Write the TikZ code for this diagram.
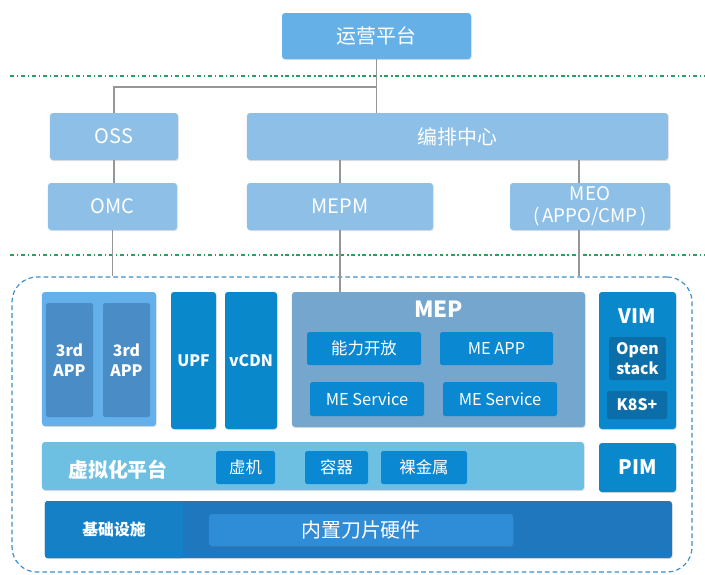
\documentclass[tikz,border=0pt]{standalone}
\usepackage{fontspec}
\setmainfont{Noto Sans CJK SC}
\usetikzlibrary{shadows, positioning}

\definecolor{topblue}{RGB}{102,176,232}
\definecolor{mgmtblue}{RGB}{142,192,231}
\definecolor{appouter}{RGB}{100,176,234}
\definecolor{appinner}{RGB}{74,141,198}
\definecolor{vnfblue}{RGB}{10,136,204}
\definecolor{mepgrey}{RGB}{116,166,206}
\definecolor{mepinner}{RGB}{10,137,210}
\definecolor{vimdark}{RGB}{11,110,168}
\definecolor{virtbar}{RGB}{110,192,226}
\definecolor{infrabar}{RGB}{31,119,190}
\definecolor{infraleft}{RGB}{22,128,198}
\definecolor{hwblue}{RGB}{47,141,216}
\definecolor{framedash}{RGB}{62,142,200}
\definecolor{sepgreen}{RGB}{40,160,100}
\definecolor{linkgrey}{RGB}{150,150,150}

\begin{document}
\begin{tikzpicture}[
  x=0.03cm, y=-0.03cm,
  blk/.style={rounded corners=2.5pt, text=white, inner sep=0pt, align=center,
    drop shadow={shadow xshift=0.6pt, shadow yshift=-0.9pt, opacity=0.25}},
  flat/.style={rounded corners=1.5pt, text=white, inner sep=0pt, align=center},
  big/.style={font=\fontsize{17}{20}\selectfont},
  mid/.style={font=\fontsize{14}{17}\selectfont},
  bigb/.style={font=\fontsize{17}{20}\selectfont\bfseries},
  midb/.style={font=\fontsize{13.5}{17}\selectfont\bfseries},
  link/.style={draw=linkgrey, line width=1.2pt},
  sep/.style={draw=sepgreen, line width=1pt, dash pattern=on 3.4pt off 2.4pt on 1.2pt off 2.4pt}
]
\useasboundingbox (0,0) rectangle (705,574);

\draw[sep] (10,76) -- (705,76);
\draw[sep] (10,255) -- (705,255);

\node[blk, fill=topblue, big, minimum width=5.67cm, minimum height=1.38cm] at (376.5,36) (ops_platform) {运营平台};
\node[blk, fill=mgmtblue, big, minimum width=3.84cm, minimum height=1.41cm] at (114,136.5) (oss) {OSS};
\node[blk, fill=mgmtblue, big, minimum width=12.63cm, minimum height=1.41cm] at (457.5,136.5) (orch_center) {编排中心};
\node[blk, fill=mgmtblue, big, minimum width=3.87cm, minimum height=1.41cm] at (112.5,206.5) (omc) {OMC};
\node[blk, fill=mgmtblue, big, minimum width=5.58cm, minimum height=1.41cm] at (340,206.5) (mepm) {MEPM};
\node[blk, fill=mgmtblue, font=\fontsize{16}{19}\selectfont, minimum width=4.8cm, minimum height=1.41cm] at (590,206.5) (meo) {MEO\\(\,APPO/CMP\,)};

\node[draw=framedash, line width=1pt, dash pattern=on 4pt off 2.6pt, rounded corners=0.75cm, minimum width=20.4cm, minimum height=8.85cm] at (352,424.5) (mec_frame) {};

\coordinate (branch) at (376.5,87);
\coordinate (meo_port) at ([xshift=-0.33cm]meo.north);
\coordinate (meo_out) at ([xshift=-0.33cm]meo.south);
\draw[link] (ops_platform.south) -- (ops_platform.south |- orch_center.north);
\draw[link] (branch) -| (oss.north);
\draw[link] (oss.south) -- (oss.south |- omc.north);
\draw[link] (orch_center.south -| mepm.north) -- (mepm.north);
\draw[link] (meo_port |- orch_center.south) -- (meo_port);
\draw[link] (omc.south) -- (omc.south |- mec_frame.north);
\draw[link] (meo_out) -- (meo_out |- mec_frame.north);

\node[blk, fill=appouter, minimum width=3.42cm, minimum height=4.02cm] at (99,359) (app_group) {};
\node[flat, fill=appinner, midb, minimum width=1.41cm, minimum height=3.42cm] at (69.5,360) (app_a) {3rd\\APP};
\node[flat, fill=appinner, midb, minimum width=1.41cm, minimum height=3.42cm] at (126.5,360) (app_b) {3rd\\APP};
\node[blk, fill=vnfblue, midb, minimum width=1.35cm, minimum height=4.11cm] at (193.5,360.5) (upf) {UPF};
\node[blk, fill=vnfblue, midb, minimum width=1.56cm, minimum height=4.11cm] at (251,360.5) (vcdn) {vCDN};

\node[blk, fill=mepgrey, minimum width=8.79cm, minimum height=4.05cm] at (438.5,359.5) (mep) {};
\node[text=white, font=\fontsize{19}{22}\selectfont\bfseries] at (438.5,309) (mep_title) {MEP};
\draw[link] (mepm.south) -- (mepm.south |- mep.north);
\node[flat, fill=mepinner, mid, minimum width=3.42cm, minimum height=0.99cm] at (364,348.5) (cap_open) {能力开放};
\node[flat, fill=mepinner, mid, minimum width=3.39cm, minimum height=0.99cm] at (496.5,348.5) (me_app) {ME APP};
\node[flat, fill=mepinner, mid, minimum width=3.42cm, minimum height=1.02cm] at (367,399) (me_svc_a) {ME Service};
\node[flat, fill=mepinner, mid, minimum width=3.42cm, minimum height=1.02cm] at (500,399) (me_svc_b) {ME Service};

\node[blk, fill=vnfblue, minimum width=2.31cm, minimum height=4.11cm] at (637.5,360.5) (vim) {};
\node[text=white, bigb] at (637.5,316) (vim_title) {VIM};
\node[flat, fill=vimdark, midb, minimum width=1.71cm, minimum height=1.29cm] at (637.5,358.5) (openstack) {Open\\stack};
\node[flat, fill=vimdark, midb, minimum width=1.8cm, minimum height=0.84cm] at (637,405) (k8s) {K8S+};

\node[blk, fill=virtbar, minimum width=16.26cm, minimum height=1.44cm] at (313,466) (virt_bar) {};
\node[text=white, bigb] at (118,470) (virt_label) {虚拟化平台};
\node[flat, fill=mepinner, mid, minimum width=1.77cm, minimum height=0.99cm] at (245.5,467.5) (vm) {虚机};
\node[flat, fill=mepinner, mid, minimum width=1.89cm, minimum height=0.99cm] at (336.5,467.5) (container) {容器};
\node[flat, fill=mepinner, mid, minimum width=2.58cm, minimum height=0.99cm] at (424,467.5) (bare_metal) {裸金属};
\node[blk, fill=vnfblue, bigb, minimum width=2.31cm, minimum height=1.47cm] at (637.5,467.5) (pim) {PIM};

\node[blk, fill=infrabar, minimum width=18.81cm, minimum height=1.71cm] at (358.5,529.5) (infra_bar) {};
\node[fill=infraleft, text=white, midb, rounded corners=1.5pt, minimum width=4.14cm, minimum height=1.71cm] at (114,529.5) (infra_label) {基础设施};
\node[blk, fill=hwblue, big, minimum width=9.12cm, minimum height=0.96cm] at (361,530) (hw) {内置刀片硬件};
\end{tikzpicture}
\end{document}
